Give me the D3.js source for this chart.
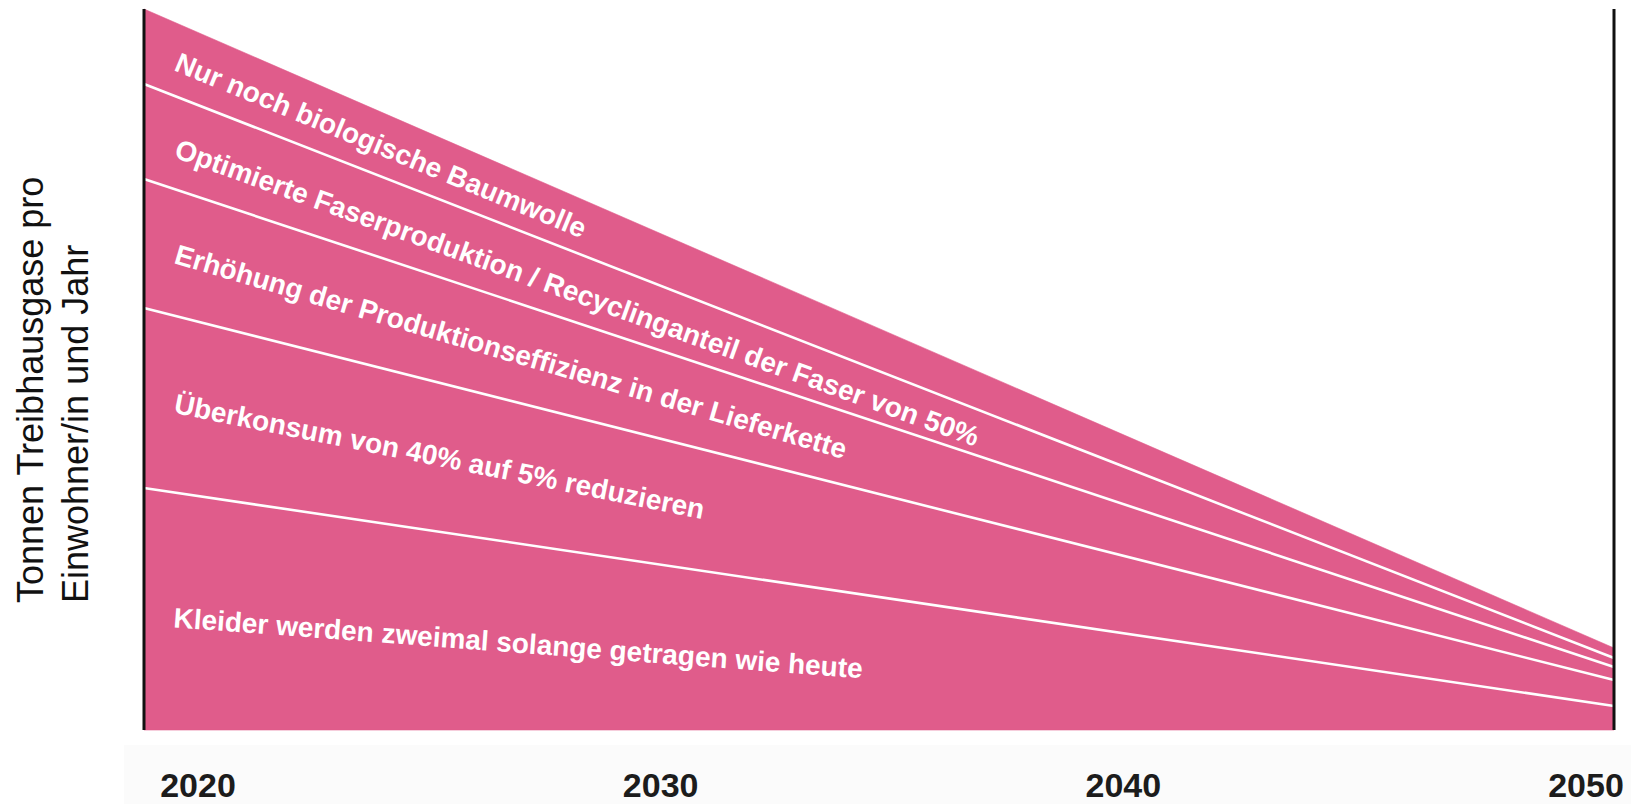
<!DOCTYPE html>
<html>
<head>
<meta charset="utf-8">
<script src="https://cdn.jsdelivr.net/npm/d3@7"></script>
<style>
  html, body { margin: 0; padding: 0; background: #ffffff; }
  svg { display: block; }
</style>
</head>
<body>
<svg id="chart" width="1631" height="804"></svg>
<script>
// ---- data ----
const years = [2020, 2050];
const tickYears = [2020, 2030, 2040, 2050];
const seriesNames = [
  "Kleider werden zweimal solange getragen wie heute",
  "Überkonsum von 40% auf 5% reduzieren",
  "Erhöhung der Produktionseffizienz in der Lieferkette",
  "Optimierte Faserproduktion / Recyclinganteil der Faser von 50%",
  "Nur noch biologische Baumwolle"
];
// remaining emissions share of each measure (stacked, bottom to top), values at 2020 and 2050
const kleider     = [2.42, 0.24];
const ueberkonsum = [1.80, 0.26];
const effizienz   = [1.29, 0.13];
const faser       = [0.95, 0.09];
const baumwolle   = [0.75, 0.10];
const yTitle = ["Tonnen Treibhausgase pro", "Einwohner/in und Jahr"];

(function () {
// ---- build table ----
const seriesValues = [kleider, ueberkonsum, effizienz, faser, baumwolle];
const table = years.map((yr, i) => {
  const row = { year: yr };
  seriesNames.forEach((n, k) => row[n] = seriesValues[k][i]);
  return row;
});
const stacked = d3.stack().keys(seriesNames)(table);
const total = d3.max(stacked[stacked.length - 1], d => d[1]);

// ---- layout ----
const svg = d3.select("#chart");
const pL = 144, pR = 1614, pT = 9, pB = 730;
const pink = "#e05c8b";

const x = d3.scaleLinear().domain([2020, 2050]).range([pL, pR]);
const y = d3.scaleLinear().domain([0, total]).range([pB, pT]);

// very light band behind year labels
svg.append("rect")
  .attr("x", 124).attr("y", 745).attr("width", 1631 - 124).attr("height", 804 - 745)
  .attr("fill", "#fbfbfb");

const area = d3.area()
  .x(d => x(d.data.year))
  .y0(d => y(d[0]))
  .y1(d => y(d[1]));

svg.append("g").selectAll("path")
  .data(stacked)
  .join("path")
  .attr("d", area)
  .attr("fill", pink)
  .attr("stroke", pink)
  .attr("stroke-width", 0.6);

// white separator lines (top of every layer except the topmost)
const line = d3.line().x(d => x(d.data.year)).y(d => y(d[1]));
svg.append("g").selectAll("path")
  .data(stacked.slice(0, stacked.length - 1))
  .join("path")
  .attr("d", line)
  .attr("fill", "none")
  .attr("stroke", "#ffffff")
  .attr("stroke-width", 2.6);

// vertical boundary lines
svg.append("g").selectAll("line")
  .data([2020, 2050])
  .join("line")
  .attr("x1", d => x(d)).attr("x2", d => x(d))
  .attr("y1", pT).attr("y2", pB)
  .attr("stroke", "#111")
  .attr("stroke-width", 3);

// band labels
const labelDx = 29;
const labelAdj = [16, 9, 11, 15, 11.5];
const lx = pL + labelDx;
const tFrac = labelDx / (pR - pL);
stacked.forEach((s, k) => {
  const y0a = y(s[0][0]), y0b = y(s[1][0]);
  const y1a = y(s[0][1]), y1b = y(s[1][1]);
  const lo = y0a + (y0b - y0a) * tFrac;
  const hi = y1a + (y1b - y1a) * tFrac;
  const mid = (lo + hi) / 2;
  const slope = ((y0b - y0a) + (y1b - y1a)) / 2 / (pR - pL);
  const ang = Math.atan(slope) * 180 / Math.PI;
  svg.append("text")
    .attr("transform", `translate(${lx},${mid + labelAdj[k]}) rotate(${ang})`)
    .attr("font-family", "'Liberation Sans', Arial, Helvetica, sans-serif")
    .attr("font-weight", "bold")
    .attr("font-size", 28)
    .attr("fill", "#ffffff")
    .text(s.key);
});

// year labels
const xl = d3.scalePoint().domain(tickYears).range([198, 1586]);
svg.append("g").selectAll("text")
  .data(tickYears)
  .join("text")
  .attr("x", d => xl(d))
  .attr("y", 797)
  .attr("text-anchor", "middle")
  .attr("font-family", "'Liberation Sans', Arial, Helvetica, sans-serif")
  .attr("font-weight", "bold")
  .attr("font-size", 34)
  .attr("fill", "#1c1c1c")
  .text(d => d);

// y title
const titleX = [43, 88];
yTitle.forEach((t, i) => {
  svg.append("text")
    .attr("transform", `translate(${titleX[i]},603) rotate(-90)`)
    .attr("font-family", "'Liberation Sans', Arial, Helvetica, sans-serif")
    .attr("font-size", 36)
    .attr("fill", "#111")
    .text(t);
});
})();
</script>
</body>
</html>
